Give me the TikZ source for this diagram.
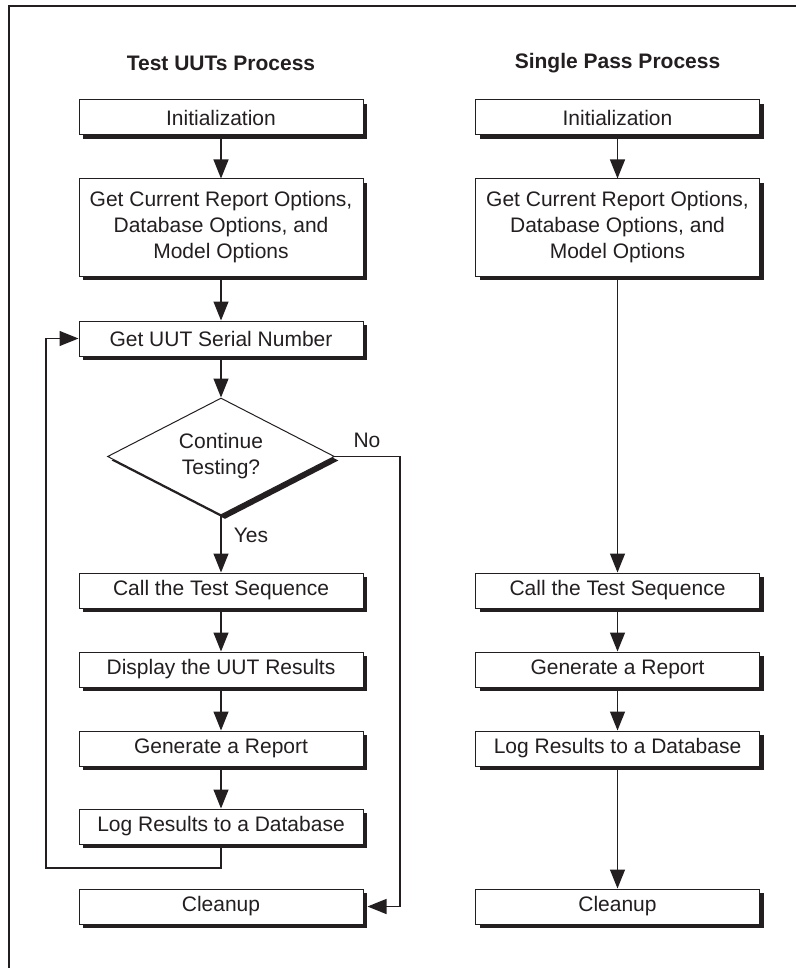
\documentclass[tikz,border=0pt]{standalone}
\usepackage{fontspec}
\setmainfont{Liberation Sans}
\usetikzlibrary{arrows.meta,shapes.geometric,shadows}
\definecolor{ink}{HTML}{231F20}
\begin{document}
\begin{tikzpicture}[x=1pt,y=-1pt,
  shad/.style={drop shadow={fill=ink, opacity=1, shadow xshift=4pt, shadow yshift=-4pt}},
  box/.style={draw=ink, line width=1pt, fill=white, minimum width=284pt, minimum height=35pt,
    inner sep=0pt, align=center, text=ink, font=\fontsize{21}{26}\selectfont, shad},
  dia/.style={diamond, aspect=2, draw=ink, line width=1pt, fill=white, minimum width=227pt,
    minimum height=117pt, inner sep=0pt, align=center, text=ink, font=\fontsize{21}{26}\selectfont, shad},
  ttl/.style={text=ink, font=\bfseries\fontsize{21}{26}\selectfont},
  lbl/.style={text=ink, font=\fontsize{21}{26}\selectfont, inner sep=0pt},
  conn/.style={draw=ink, line width=1.2pt},
  arr/.style={conn, -{Triangle[length=19pt,width=15pt]}}]
\useasboundingbox (0,0) rectangle (796,968);
% frame
\draw[ink, line width=2pt] (796,6) -- (9,6) -- (9,968);
% titles
\node[ttl] (tleft) at (221,63) {Test UUTs Process};
\node[ttl] (tright) at (617.5,63) {Single Pass Process};
% left column
\node[box] (linit) at (221,117.5) {Initialization};
\node[box, minimum height=97pt] (lgetcur) at (221,227.5) {Get Current Report Options,\\Database Options, and\\Model Options};
\node[box] (lserial) at (221,338.5) {Get UUT Serial Number};
\node[dia] (ldec) at (221,456.5) {Continue\\Testing?};
\node[box] (lcall) at (221,590.5) {Call the Test Sequence};
\node[box] (ldisp) at (221,669.5) {Display the UUT Results};
\node[box] (lgen) at (221,748.5) {Generate a Report};
\node[box] (llog) at (221,826.5) {Log Results to a Database};
\node[box] (lcleanup) at (221,906.5) {Cleanup};
\node[lbl] (lno) at (367,440) {No};
\node[lbl] (lyes) at (251,535) {Yes};
% right column
\node[box] (rinit) at (617.5,117.5) {Initialization};
\node[box, minimum height=97pt] (rgetcur) at (617.5,227.5) {Get Current Report Options,\\Database Options, and\\Model Options};
\node[box] (rcall) at (617.5,590.5) {Call the Test Sequence};
\node[box] (rgen) at (617.5,669.5) {Generate a Report};
\node[box] (rlog) at (617.5,748.5) {Log Results to a Database};
\node[box] (rcleanup) at (617.5,906.5) {Cleanup};
% left connectors
\draw[arr] (linit.south) -- (lgetcur.north);
\draw[arr] (lgetcur.south) -- (lserial.north);
\draw[arr] (lserial.south) -- (ldec.north);
\draw[arr] (ldec.south) -- (lcall.north);
\draw[arr] (lcall.south) -- (ldisp.north);
\draw[arr] (ldisp.south) -- (lgen.north);
\draw[arr] (lgen.south) -- (llog.north);
\coordinate (nocorner) at (400,456.5);
\draw[arr] (ldec.east) -- (nocorner) |- ([xshift=4pt]lcleanup.east);
\coordinate (loopbot) at (46,868);
\draw[arr] (llog.south) |- (loopbot) |- (lserial.west);
% right connectors
\draw[arr] (rinit.south) -- (rgetcur.north);
\draw[arr] (rgetcur.south) -- (rcall.north);
\draw[arr] (rcall.south) -- (rgen.north);
\draw[arr] (rgen.south) -- (rlog.north);
\draw[arr] (rlog.south) -- (rcleanup.north);
\end{tikzpicture}
\end{document}
